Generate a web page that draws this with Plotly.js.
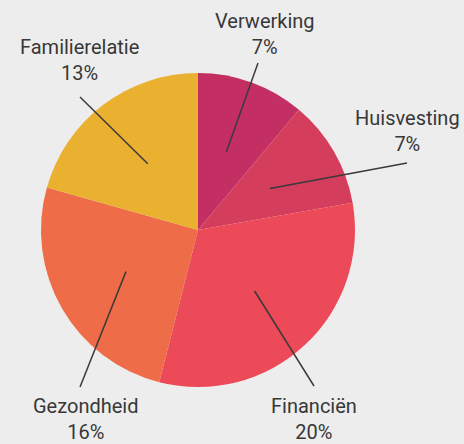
<!DOCTYPE html>
<html>
<head>
<meta charset="utf-8">
<script src="https://cdn.plot.ly/plotly-3.0.1.min.js"></script>
<style>
  html, body { margin: 0; padding: 0; background: #ededed; }
  #chart { width: 464px; height: 444px; }
</style>
</head>
<body>
<div id="chart"></div>
<script>
// ---- data ----
const categories = ['Verwerking', 'Huisvesting', 'Financiën', 'Gezondheid', 'Familierelatie'];
const percentages = [7, 7, 20, 16, 13];

// ---- styling / layout config ----
const sliceColors = ['#c42f63', '#d43d5c', '#ec4a58', '#ee6c48', '#eab131'];
const W = 464, H = 444;
const cx = 198, cy = 230, R = 157;           // pie centre / radius in pixels
const innerFrac = 0.53;                        // where leader lines end inside slices
// label block centre and leader-line start, in pixels
const labelPos = [
  {x: 265, y: 34,  lx: 258, ly: 63},
  {x: 407, y: 131, lx: 407, ly: 163},
  {x: 314, y: 419, lx: 314, ly: 386},
  {x: 86,  y: 419, lx: 80,  ly: 387},
  {x: 79,  y: 60,  lx: 80,  ly: 97}
];

const px2x = v => v / W;
const px2y = v => 1 - v / H;

const total = percentages.reduce((a, b) => a + b, 0);
let cum = 0;
const shapes = [];
const annotations = [];
percentages.forEach((v, i) => {
  const theta = 2 * Math.PI * (cum + v / 2) / total;
  cum += v;
  const ex = cx + R * innerFrac * Math.sin(theta);
  const ey = cy - R * innerFrac * Math.cos(theta);
  const p = labelPos[i];
  shapes.push({
    type: 'line', xref: 'paper', yref: 'paper',
    x0: px2x(p.lx), y0: px2y(p.ly), x1: px2x(ex), y1: px2y(ey),
    line: {color: '#3a3a3a', width: 1.5}
  });
  annotations.push({
    xref: 'paper', yref: 'paper', x: px2x(p.x), y: px2y(p.y),
    xanchor: 'center', yanchor: 'middle', showarrow: false,
    text: categories[i] + '<br>' + v + '%',
    font: {family: 'Roboto, sans-serif', size: 20, color: '#383838'}
  });
});

const trace = {
  type: 'pie',
  labels: categories,
  values: percentages,
  sort: false,
  direction: 'clockwise',
  rotation: 0,
  textinfo: 'none',
  hoverinfo: 'none',
  marker: {colors: sliceColors, line: {width: 0}},
  domain: {x: [px2x(cx - R), px2x(cx + R)], y: [px2y(cy + R), px2y(cy - R)]},
  showlegend: false
};

const layout = {
  width: W, height: H,
  margin: {l: 0, r: 0, t: 0, b: 0},
  paper_bgcolor: '#ededed',
  plot_bgcolor: '#ededed',
  showlegend: false,
  shapes: shapes,
  annotations: annotations
};

Plotly.newPlot('chart', [trace], layout, {displayModeBar: false, staticPlot: true});
</script>
</body>
</html>
